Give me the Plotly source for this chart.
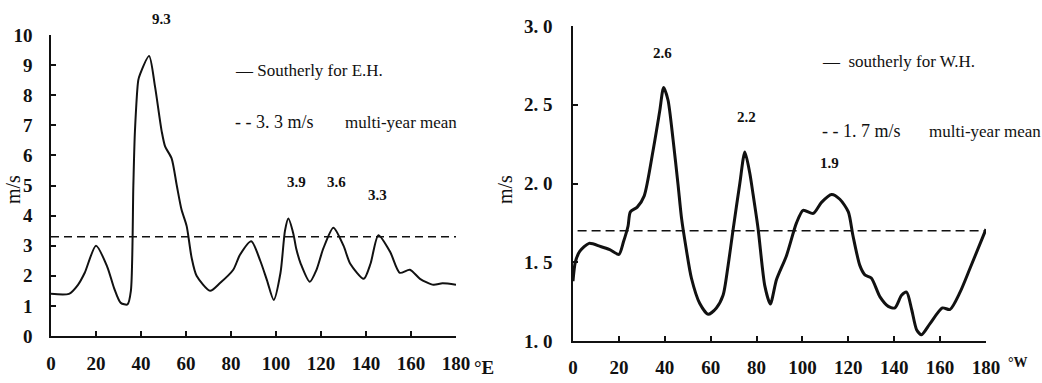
import plotly.graph_objects as go

# ---------------- data ----------------
east_lon = [0, 8, 12, 15, 20, 25, 28, 31, 34, 35.5, 36.6, 37.3, 38.8, 39.6, 43.6, 46.2, 49.2, 50.7,
            53.6, 55.9, 58, 60.3, 62.5, 64.7, 70.7, 75, 81, 84, 89, 93, 96, 99, 102, 104, 105.5,
            107.7, 109, 111, 115, 118, 121, 125.5, 130, 133, 139, 142, 145.5, 150.7, 155, 159.5,
            164, 170, 174, 180]
east_wind = [1.4, 1.4, 1.7, 2.1, 3.0, 2.3, 1.6, 1.1, 1.05, 1.5, 5.0, 6.8, 8.5, 8.7, 9.3, 8.3, 6.8, 6.3,
             5.9, 5.0, 4.2, 3.65, 2.6, 2.0, 1.5, 1.75, 2.2, 2.7, 3.15, 2.5, 1.85, 1.2, 2.1, 3.5, 3.9,
             3.4, 2.9, 2.4, 1.8, 2.2, 2.9, 3.6, 3.0, 2.4, 1.9, 2.4, 3.35, 2.8, 2.1, 2.2,
             1.9, 1.7, 1.75, 1.7]
east_mean = 3.3

west_lon = [0, 1, 3, 7, 12, 16, 20, 22, 24, 25, 28, 31, 34.9, 37.8, 39.5, 41.4, 43.6, 45.8, 47.3,
            49.4, 51.6, 55.2, 58.9, 62.5, 65.4, 67.6, 69.8, 72.7, 74.9, 77, 78.5, 80.7, 83.6, 86,
            88.7, 93, 97.4, 100.3, 104.7, 108.3, 112.7, 116.3, 120, 122, 125, 127.2, 130, 133.8,
            137.4, 140.3, 143.2, 145.4, 147.6, 149.8, 151.9, 155.6, 161, 164.3, 168.7, 173, 180]
west_wind = [1.38, 1.5, 1.57, 1.62, 1.60, 1.58, 1.55, 1.63, 1.73, 1.82, 1.85, 1.92, 2.21, 2.46, 2.61,
             2.53, 2.28, 1.99, 1.78, 1.58, 1.40, 1.24, 1.17, 1.21, 1.29, 1.48, 1.71, 2.0, 2.2, 2.07,
             1.93, 1.71, 1.35, 1.235, 1.39, 1.54, 1.75, 1.83, 1.81, 1.88, 1.93, 1.90, 1.82, 1.67,
             1.48, 1.42, 1.40, 1.28, 1.22, 1.21, 1.29, 1.31, 1.20, 1.07, 1.04, 1.11, 1.21, 1.20,
             1.31, 1.46, 1.71]
west_mean = 1.7

lon_ticks = [0, 20, 40, 60, 80, 100, 120, 140, 160, 180]
lon_ticktext = ["0", "20", "40", "60", "80", "100", "120", "140", "160", "180"]
east_yticks = [0, 1, 2, 3, 4, 5, 6, 7, 8, 9, 10]
east_yticktext = ["0", "1", "2", "3", "4", "5", "6", "7", "8", "9", "10"]
west_yticks = [1.0, 1.5, 2.0, 2.5, 3.0]
west_yticktext = ["1. 0", "1. 5", "2. 0", "2. 5", "3. 0"]

east_peaks_x = [44, 109, 127, 145]
east_peaks_y = [10.6, 5.1, 5.1, 4.7]
east_peaks_text = ["9.3", "3.9", "3.6", "3.3"]
west_peaks_x = [39.2, 75.8, 112]
west_peaks_y = [2.83, 2.42, 2.13]
west_peaks_text = ["2.6", "2.2", "1.9"]

# ---------------- layout helpers ----------------
W, H = 1042, 383
def px(x):
    return x / W
def py(y):
    return 1 - y / H

SERIF = "Liberation Serif"
BLACK = "#111111"
NB = "\u00a0"

fig = go.Figure()

fig.add_trace(go.Scatter(x=east_lon, y=east_wind, mode="lines", xaxis="x", yaxis="y",
                         line=dict(color=BLACK, width=2, shape="spline", smoothing=0.7),
                         showlegend=False, hoverinfo="skip", cliponaxis=False))
fig.add_trace(go.Scatter(x=[0, 180], y=[east_mean, east_mean], mode="lines", xaxis="x", yaxis="y",
                         line=dict(color=BLACK, width=1.5, dash="8px,5px"),
                         showlegend=False, hoverinfo="skip"))
fig.add_trace(go.Scatter(x=west_lon, y=west_wind, mode="lines", xaxis="x2", yaxis="y2",
                         line=dict(color=BLACK, width=3, shape="spline", smoothing=0.7),
                         showlegend=False, hoverinfo="skip", cliponaxis=False))
fig.add_trace(go.Scatter(x=[2, 180], y=[west_mean, west_mean], mode="lines", xaxis="x2", yaxis="y2",
                         line=dict(color=BLACK, width=1.5, dash="9px,5px"),
                         showlegend=False, hoverinfo="skip"))

tickfont = dict(family=SERIF, size=19, color=BLACK, weight="bold")
axis_common = dict(showline=True, linecolor=BLACK, linewidth=1.5, ticks="inside", ticklen=5,
                   tickcolor=BLACK, tickwidth=1.5, showgrid=False, zeroline=False,
                   tickfont=tickfont, mirror=False, automargin=False)

fig.update_layout(
    width=W, height=H,
    margin=dict(l=0, r=0, t=0, b=0, pad=0),
    paper_bgcolor="white", plot_bgcolor="white",
    xaxis=dict(domain=[px(51), px(456)], range=[0, 180], anchor="y",
               tickvals=lon_ticks, ticktext=lon_ticktext, ticklabelstandoff=9, **axis_common),
    yaxis=dict(domain=[py(336), py(35)], range=[0, 10], anchor="x",
               tickvals=east_yticks, ticktext=east_yticktext, ticklabelstandoff=13, **axis_common),
    xaxis2=dict(domain=[px(573), px(986)], range=[0, 180], anchor="y2",
                tickvals=lon_ticks, ticktext=lon_ticktext, ticklabelstandoff=8, **axis_common),
    yaxis2=dict(domain=[py(341), py(26)], range=[1, 3], anchor="x2",
                tickvals=west_yticks, ticktext=west_yticktext, ticklabelstandoff=15, **axis_common),
)

ann = []
peak_font = dict(family=SERIF, size=15, color=BLACK, weight="bold")
# the 9.3 label sits above the top of the axis, so place it in paper space
ann.append(dict(x=px(150), y=py(9), xref="paper", yref="paper", text=east_peaks_text[0],
                showarrow=False, font=peak_font))
for x, y, t in zip(east_peaks_x[1:], east_peaks_y[1:], east_peaks_text[1:]):
    ann.append(dict(x=x, y=y, xref="x", yref="y", text=t, showarrow=False, font=peak_font))
for x, y, t in zip(west_peaks_x, west_peaks_y, west_peaks_text):
    ann.append(dict(x=x, y=y, xref="x2", yref="y2", text=t, showarrow=False, font=peak_font))

def paper_text(x, y, text, size, xanchor="left", angle=0, weight="normal"):
    ann.append(dict(x=px(x), y=py(y), xref="paper", yref="paper", text=text, showarrow=False,
                    xanchor=xanchor, yanchor="middle", textangle=angle,
                    font=dict(family=SERIF, size=size, color=BLACK, weight=weight)))

# legends (left panel)
paper_text(233, 70, "—" + NB + "Southerly for E.H.", 17)
paper_text(233, 122, "-" + NB + "-" + NB + "3." + NB + "3" + NB + "m/s", 18)
paper_text(343, 123, "multi-year mean", 17)
# legends (right panel)
paper_text(820, 61, "—" + NB + NB + "southerly for W.H.", 17)
paper_text(820, 131, "-" + NB + "-" + NB + "1." + NB + "7" + NB + "m/s", 18)
paper_text(927, 131, "multi-year mean", 17)
# axis titles
paper_text(13, 190, "m/s", 20, xanchor="center", angle=-90)
paper_text(505, 190, "m/s", 20, xanchor="center", angle=-90)
paper_text(472, 367, "°E", 19, weight="bold")
paper_text(1006, 362, "°W", 14, weight="bold")

fig.update_layout(annotations=ann)
fig.write_html("out.html")
